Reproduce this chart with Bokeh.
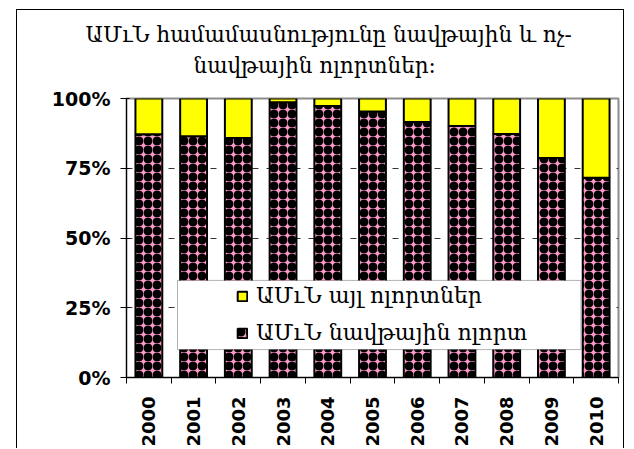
import math
from bokeh.plotting import figure
from bokeh.models import (Range1d, FixedTicker, Legend, LegendItem, Title,
                          BoxAnnotation)
from bokeh.embed import file_html
from bokeh.resources import INLINE

years = ["2000", "2001", "2002", "2003", "2004", "2005",
         "2006", "2007", "2008", "2009", "2010"]
oil_share = [87.2, 86.5, 85.8, 98.7, 97.3, 95.3, 91.6, 90.1, 87.3, 78.7, 71.6]
other_share = [12.8, 13.5, 14.2, 1.3, 2.7, 4.7, 8.4, 9.9, 12.7, 21.3, 28.4]
y_ticks = [0, 25, 50, 75, 100]

title_line1 = "ԱՄւՆ համամասնությունը նավթային և ոչ-"
title_line2 = "նավթային ոլորտներ:"
label_other = "ԱՄւՆ այլ ոլորտներ"
label_oil = "ԱՄւՆ նավթային ոլորտ"

xpos = [i + 0.5 for i in range(len(years))]
data = dict(x=xpos, oil=oil_share, other=other_share)

p = figure(width=608, height=439, output_backend="svg", toolbar_location=None,
           x_range=Range1d(0, len(years)), y_range=Range1d(0, 100),
           min_border_left=109, min_border_right=7, min_border_top=88,
           min_border_bottom=72, title=None)
p.styles = {"margin-left": "16px", "margin-top": "9px",
            "border-top": "1px solid black",
            "border-left": "1px solid black",
            "border-right": "1px solid black"}

p.outline_line_color = "#8c8c8c"
p.outline_line_width = 2
p.background_fill_color = "white"
p.border_fill_color = "white"

rs = p.vbar_stack(["oil", "other"], x="x", width=0.6, source=data,
                  fill_color=["#FF99CC", "#FFFF00"],
                  line_color="black", line_width=2,
                  hatch_pattern=["ring", " "], hatch_color="black",
                  hatch_weight=4.5, hatch_scale=9)

# grid
p.xgrid.visible = False
p.ygrid.ticker = FixedTicker(ticks=[25, 50, 75])
p.ygrid.grid_line_color = "#333333"
p.ygrid.grid_line_dash = "6 8"
p.ygrid.grid_line_width = 1

# y axis
p.yaxis.ticker = FixedTicker(ticks=y_ticks)
p.yaxis.major_label_overrides = {t: f"{t}%" for t in y_ticks}
p.yaxis.major_label_text_font = "DejaVu Sans"
p.yaxis.major_label_text_font_style = "bold"
p.yaxis.major_label_text_font_size = "19px"
p.yaxis.major_label_text_color = "black"
p.yaxis.major_tick_out = 6
p.yaxis.major_tick_in = 3
p.yaxis.minor_tick_line_color = None
p.yaxis.axis_line_color = "black"
p.yaxis.major_label_standoff = 10

# x axis
p.xaxis.ticker = FixedTicker(ticks=xpos, minor_ticks=list(range(len(years) + 1)))
p.xaxis.major_label_overrides = {x: y for x, y in zip(xpos, years)}
p.xaxis.major_label_orientation = math.pi / 2
p.xaxis.major_label_text_font = "DejaVu Sans"
p.xaxis.major_label_text_font_style = "bold"
p.xaxis.major_label_text_font_size = "18px"
p.xaxis.major_label_text_color = "black"
p.xaxis.major_tick_line_color = None
p.xaxis.major_tick_out = 0
p.xaxis.major_tick_in = 0
p.xaxis.minor_tick_out = 6
p.xaxis.minor_tick_in = 0
p.xaxis.minor_tick_line_color = "black"
p.xaxis.axis_line_color = "black"
p.xaxis.major_label_standoff = 13

# legend frame
box = BoxAnnotation(left=1.14, right=10.16, bottom=10.0, top=34.8,
                    fill_color="white", fill_alpha=1.0,
                    line_color="black", line_width=1)
p.add_layout(box)

legend = Legend(items=[LegendItem(label=label_other, renderers=[rs[1]]),
                       LegendItem(label=label_oil, renderers=[rs[0]])],
                location=(110, 32), padding=0, margin=0,
                border_line_color=None, background_fill_alpha=0,
                glyph_width=12, glyph_height=12, label_standoff=8,
                spacing=12, label_text_font="DejaVu Serif",
                label_text_font_size="22px", label_text_color="black")
p.add_layout(legend)

# gap between the title and the plot area
p.add_layout(Title(text=" ", text_font_size="10px", standoff=8), "above")
# two-line title, each line centred on the whole chart box
p.add_layout(Title(text=title_line2, align="left", offset=67,
                   text_font="DejaVu Serif", text_font_size="21.5px",
                   text_font_style="normal", text_color="black",
                   standoff=0), "above")
p.add_layout(Title(text=title_line1, align="left", offset=-41,
                   text_font="DejaVu Serif", text_font_size="21.5px",
                   text_font_style="normal", text_color="black",
                   standoff=8), "above")

open("out.html", "w").write(file_html(p, INLINE))
